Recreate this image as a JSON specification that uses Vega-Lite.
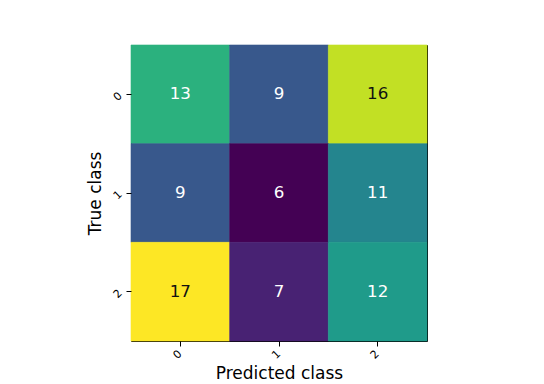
{
  "$schema": "https://vega.github.io/schema/vega-lite/v6.json",
  "autosize": "none",
  "width": 296,
  "height": 296,
  "padding": {"left": 131, "top": 45, "right": 117, "bottom": 43},
  "background": "white",
  "config": {
    "font": "DejaVu Sans",
    "view": {"stroke": "black", "strokeWidth": 1},
    "axis": {
      "domain": false,
      "ticks": true,
      "tickColor": "black",
      "tickSize": 5,
      "labelColor": "black",
      "labelFont": "DejaVu Sans",
      "labelFontSize": 11,
      "titleFont": "DejaVu Sans",
      "titleFontSize": 17,
      "titleFontWeight": "normal",
      "titleColor": "black",
      "grid": false
    }
  },
  "data": {
    "values": [
      {"true": "0", "pred": "0", "count": 13},
      {"true": "0", "pred": "1", "count": 9},
      {"true": "0", "pred": "2", "count": 16},
      {"true": "1", "pred": "0", "count": 9},
      {"true": "1", "pred": "1", "count": 6},
      {"true": "1", "pred": "2", "count": 11},
      {"true": "2", "pred": "0", "count": 17},
      {"true": "2", "pred": "1", "count": 7},
      {"true": "2", "pred": "2", "count": 12}
    ]
  },
  "encoding": {
    "x": {
      "field": "pred", "type": "nominal", "title": "Predicted class",
      "scale": {"paddingInner": 0, "paddingOuter": 0},
      "axis": {"labelAngle": -45, "labelAlign": "right", "labelBaseline": "middle", "labelPadding": 6, "titlePadding": 5}
    },
    "y": {
      "field": "true", "type": "nominal", "title": "True class",
      "scale": {"paddingInner": 0, "paddingOuter": 0},
      "axis": {"labelAngle": -45, "labelAlign": "right", "labelBaseline": "middle", "labelPadding": 6, "titlePadding": 6}
    }
  },
  "layer": [
    {
      "mark": {"type": "rect", "strokeWidth": 0.6},
      "encoding": {
        "fill": {"field": "count", "type": "quantitative", "scale": {"scheme": "viridis", "domain": [6, 17]}, "legend": null},
        "stroke": {"field": "count", "type": "quantitative", "scale": {"scheme": "viridis", "domain": [6, 17]}, "legend": null}
      }
    },
    {
      "mark": {"type": "text", "fontSize": 16.7, "font": "DejaVu Sans"},
      "encoding": {
        "text": {"field": "count", "type": "quantitative"},
        "color": {"condition": {"test": "datum.count >= 14", "value": "#111111"}, "value": "white"}
      }
    }
  ]
}
